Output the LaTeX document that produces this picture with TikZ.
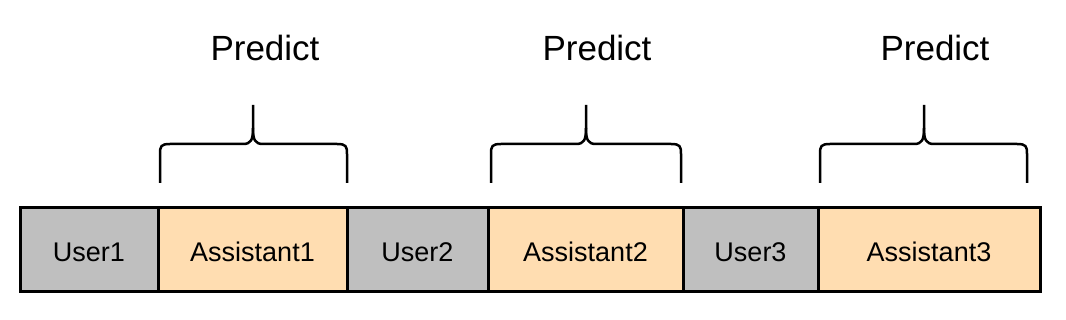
\documentclass[tikz,border=0pt]{standalone}
\usepackage{fontspec}
\setmainfont{Liberation Sans}
\definecolor{usergray}{HTML}{BFBFBF}
\definecolor{asstorange}{HTML}{FFDDB1}
\begin{document}
\begin{tikzpicture}[x=1pt,y=-1pt,
  seg/.style={draw=black, line width=3pt, minimum height=84pt, inner sep=0pt, outer sep=0pt, anchor=west, text height=24pt, text depth=0pt, font=\fontsize{27}{30}\selectfont},
  usr/.style={seg, fill=usergray},
  asst/.style={seg, fill=asstorange},
  brc/.style={draw=black, line width=2.5pt, line join=round},
  lbl/.style={font=\fontsize{35}{40}\selectfont, anchor=base}]
\useasboundingbox (0,0) rectangle (1066,320);
% segments
\node[usr, minimum width=138pt] (u1) at (20,250) {User1};
\node[asst, minimum width=189pt] (a1) at (158,250) {Assistant1};
\node[usr, minimum width=141pt] (u2) at (347,250) {User2};
\node[asst, minimum width=195pt] (a2) at (488,250) {Assistant2};
\node[usr, minimum width=135pt] (u3) at (683,250) {User3};
\node[asst, minimum width=222pt] (a3) at (818,250) {Assistant3};
% braces
\foreach \xa/\xm/\xb in {160/253/347, 491/586/681, 820/924/1027}{
  \draw[brc] (\xa,183) -- (\xa,154) .. controls (\xa,146) and (\xa+1,144) .. (\xa+10,144)
    -- (\xm-10,144) .. controls (\xm-2,144) and (\xm,140) .. (\xm,128) -- (\xm,105);
  \draw[brc] (\xm,128) .. controls (\xm,140) and (\xm+2,144) .. (\xm+10,144)
    -- (\xb-10,144) .. controls (\xb-1,144) and (\xb,146) .. (\xb,154) -- (\xb,183);
}
% labels
\node[lbl] (p1) at (265,61) {Predict};
\node[lbl] (p2) at (597,61) {Predict};
\node[lbl] (p3) at (935,61) {Predict};
\end{tikzpicture}
\end{document}
